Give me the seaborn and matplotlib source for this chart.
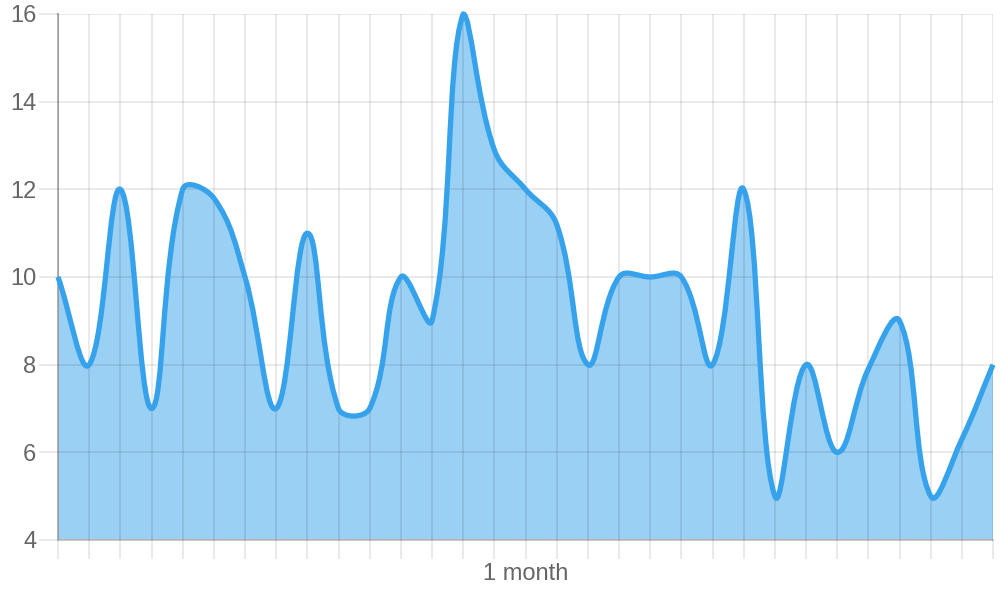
import numpy as np
import matplotlib
matplotlib.use("Agg")
import matplotlib.pyplot as plt
from matplotlib.path import Path
from matplotlib.patches import PathPatch
import seaborn as sns

# one point per day over the month
days = list(range(31))
values = [10, 8, 12, 7, 12, 11.8, 10, 7, 11, 7,
          7, 10, 9, 16, 12.9, 12, 11.2, 8, 10, 10,
          10, 8, 12, 5, 8, 6, 7.9, 9, 5, 6.3, 8]
y_ticks = [4, 6, 8, 10, 12, 14, 16]
x_label = "1 month"

line_color = "#36a2eb"
grid_color = (0, 0, 0, 0.1)
text_color = "#666666"

sns.set_style("white")
plt.rcParams["font.family"] = ["Liberation Sans", "DejaVu Sans"]

fig = plt.figure(figsize=(10, 6), dpi=100)
ax = fig.add_axes([0.058, 0.1, 0.935, 0.8767])
x_min, x_max = days[0], days[-1]
y_min, y_max = y_ticks[0], y_ticks[-1]
ax.set_xlim(x_min, x_max)
ax.set_ylim(y_min, y_max)

# pixel scale, so the smoothing behaves like a canvas spline with tension 0.4
sx = 935 / (x_max - x_min)
sy = 526 / (y_max - y_min)
pts = np.column_stack([np.array(days) * sx, np.array(values) * sy])
tension = 0.4
cp_prev = pts.copy()
cp_next = pts.copy()
for i in range(len(pts)):
    prev = pts[i - 1] if i > 0 else pts[i]
    nxt = pts[i + 1] if i < len(pts) - 1 else pts[i]
    d01 = np.hypot(*(pts[i] - prev))
    d12 = np.hypot(*(nxt - pts[i]))
    tot = d01 + d12
    fa = tension * d01 / tot if tot else 0
    fb = tension * d12 / tot if tot else 0
    cp_prev[i] = pts[i] - fa * (nxt - prev)
    cp_next[i] = pts[i] + fb * (nxt - prev)


def to_data(p):
    x = min(max(p[0] / sx, x_min), x_max)
    y = min(max(p[1] / sy, y_min), y_max)
    return (x, y)


verts = [to_data(pts[0])]
codes = [Path.MOVETO]
for i in range(1, len(pts)):
    verts += [to_data(cp_next[i - 1]), to_data(cp_prev[i]), to_data(pts[i])]
    codes += [Path.CURVE4] * 3

fill_verts = verts + [(x_max, y_min), (x_min, y_min), verts[0]]
fill_codes = codes + [Path.LINETO, Path.LINETO, Path.CLOSEPOLY]
ax.add_patch(PathPatch(Path(fill_verts, fill_codes), facecolor=line_color,
                       alpha=0.5, edgecolor="none", zorder=1))
ax.add_patch(PathPatch(Path(verts, codes), fill=False, edgecolor=line_color,
                       linewidth=3.8, joinstyle="round", zorder=3, clip_on=False))

ax.set_xticks(days)
ax.set_yticks(y_ticks)
ax.set_axisbelow(False)
ax.grid(True, color="black", alpha=0.1, linewidth=1.15, zorder=2)
ax.tick_params(axis="x", bottom=True, length=13.5, width=1.15, color=grid_color,
               labelbottom=False)
ax.tick_params(axis="y", left=True, length=14, width=1.15, color=grid_color, pad=1.5,
               labelsize=17, labelcolor=text_color)
ax.xaxis.get_major_ticks()[0].tick1line.set_color("#a9a9a9")

for side in ["top", "right"]:
    ax.spines[side].set_visible(False)
ax.spines["left"].set_color("#a9a9a9")
ax.spines["left"].set_linewidth(1.3)
ax.spines["bottom"].set_color("#c4c4c4")
ax.spines["bottom"].set_linewidth(1.3)
ax.spines["left"].set_zorder(2)
ax.spines["bottom"].set_zorder(2)

ax.set_xlabel(x_label, fontsize=17, color=text_color, va="center")
ax.xaxis.set_label_coords(0.5, -34 / 526)

fig.savefig("out.png", dpi=100)
